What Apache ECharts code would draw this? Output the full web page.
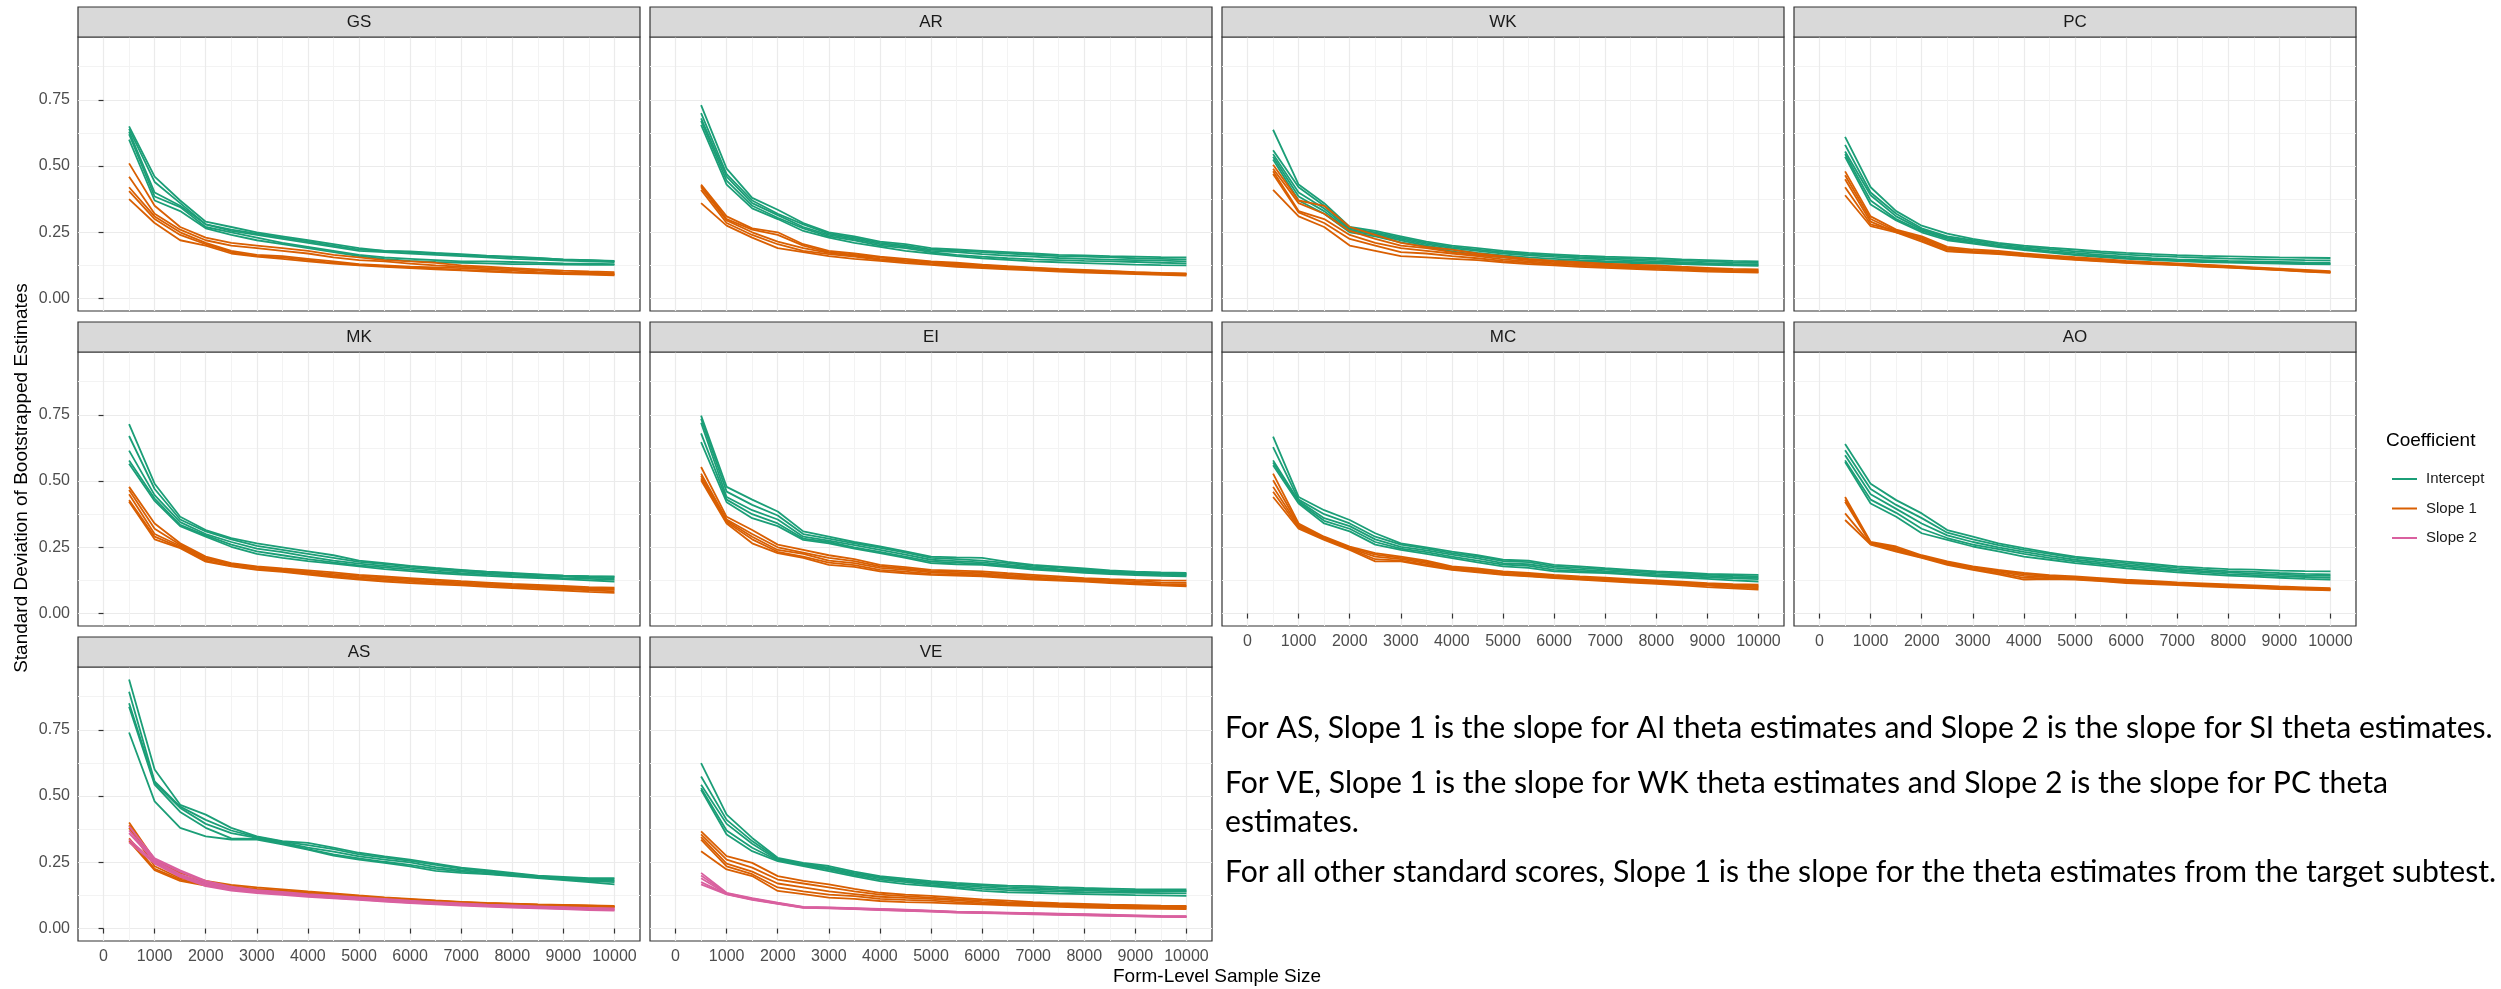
<!DOCTYPE html>
<html>
<head>
<meta charset="utf-8">
<script src="https://cdn.jsdelivr.net/npm/echarts@6/dist/echarts.min.js"></script>
<style>
  html, body { margin: 0; padding: 0; background: #ffffff; }
  #chart { width: 2501px; height: 989px; }
</style>
</head>
<body>
<div id="chart"></div>
<script>
// Form-level sample sizes on the x axis
const sampleSizes = [500, 1000, 1500, 2000, 2500, 3000, 3500, 4000, 4500, 5000,
                     5500, 6000, 6500, 7000, 7500, 8000, 8500, 9000, 9500, 10000];
const xTicks = [0, 1000, 2000, 3000, 4000, 5000, 6000, 7000, 8000, 9000, 10000];
const xMinorTicks = [500, 1500, 2500, 3500, 4500, 5500, 6500, 7500, 8500, 9500];
const yTicks = [0, 0.25, 0.5, 0.75];
const yMinorTicks = [0.125, 0.375, 0.625, 0.875];
const coefficientNames = ['Intercept', 'Slope 1', 'Slope 2'];
const panelNames = ['GS', 'AR', 'WK', 'PC', 'MK', 'EI', 'MC', 'AO', 'AS', 'VE'];

// Standard deviation of bootstrapped estimates, one row per form
const gsIntercept = [
  [0.65,0.46,0.37,0.29,0.27,0.25,0.235,0.22,0.205,0.19,0.18,0.175,0.17,0.165,0.16,0.155,0.152,0.148,0.145,0.142],
  [0.64,0.44,0.36,0.28,0.26,0.245,0.23,0.215,0.2,0.185,0.18,0.178,0.172,0.168,0.162,0.158,0.153,0.147,0.145,0.14],
  [0.63,0.40,0.35,0.28,0.255,0.24,0.225,0.21,0.195,0.18,0.175,0.17,0.165,0.16,0.155,0.15,0.147,0.143,0.14,0.138],
  [0.62,0.385,0.345,0.27,0.25,0.23,0.21,0.195,0.18,0.165,0.155,0.15,0.145,0.14,0.14,0.138,0.135,0.133,0.132,0.13],
  [0.60,0.37,0.33,0.265,0.24,0.22,0.205,0.19,0.175,0.16,0.15,0.142,0.138,0.135,0.133,0.13,0.13,0.128,0.127,0.127]
];
const gsSlope1 = [
  [0.51,0.35,0.27,0.23,0.21,0.2,0.19,0.18,0.165,0.155,0.145,0.14,0.135,0.125,0.12,0.115,0.11,0.105,0.102,0.10],
  [0.46,0.32,0.26,0.22,0.2,0.19,0.18,0.17,0.155,0.145,0.14,0.132,0.125,0.12,0.115,0.11,0.105,0.1,0.098,0.095],
  [0.42,0.31,0.25,0.21,0.18,0.165,0.16,0.15,0.14,0.13,0.125,0.12,0.118,0.115,0.11,0.105,0.1,0.097,0.094,0.092],
  [0.405,0.30,0.24,0.205,0.175,0.16,0.155,0.145,0.135,0.127,0.122,0.118,0.113,0.108,0.104,0.1,0.097,0.094,0.092,0.09],
  [0.375,0.285,0.22,0.20,0.17,0.158,0.15,0.14,0.132,0.125,0.12,0.115,0.11,0.106,0.102,0.098,0.095,0.092,0.09,0.088]
];
const arIntercept = [
  [0.73,0.49,0.38,0.335,0.285,0.25,0.235,0.215,0.205,0.19,0.185,0.18,0.175,0.17,0.165,0.163,0.16,0.158,0.156,0.155],
  [0.70,0.47,0.37,0.32,0.28,0.245,0.23,0.21,0.2,0.185,0.18,0.175,0.17,0.165,0.16,0.158,0.155,0.152,0.15,0.148],
  [0.68,0.46,0.36,0.315,0.27,0.24,0.225,0.205,0.195,0.18,0.175,0.168,0.162,0.158,0.153,0.15,0.147,0.145,0.143,0.14],
  [0.67,0.445,0.35,0.305,0.265,0.235,0.22,0.2,0.19,0.175,0.165,0.158,0.152,0.148,0.145,0.142,0.14,0.138,0.135,0.133],
  [0.655,0.43,0.34,0.30,0.255,0.23,0.21,0.195,0.18,0.17,0.16,0.152,0.146,0.14,0.137,0.134,0.131,0.128,0.126,0.125]
];
const arSlope1 = [
  [0.43,0.31,0.265,0.25,0.205,0.18,0.17,0.158,0.15,0.14,0.135,0.128,0.122,0.117,0.112,0.108,0.104,0.1,0.097,0.095],
  [0.425,0.30,0.26,0.24,0.2,0.175,0.165,0.155,0.145,0.138,0.132,0.125,0.12,0.115,0.11,0.106,0.102,0.099,0.096,0.093],
  [0.42,0.295,0.25,0.215,0.19,0.172,0.162,0.15,0.142,0.135,0.128,0.122,0.117,0.112,0.108,0.104,0.1,0.097,0.094,0.092],
  [0.41,0.285,0.24,0.205,0.18,0.168,0.158,0.146,0.138,0.13,0.124,0.119,0.114,0.11,0.105,0.102,0.098,0.095,0.092,0.09],
  [0.36,0.275,0.23,0.19,0.175,0.16,0.15,0.142,0.134,0.127,0.12,0.115,0.11,0.106,0.102,0.098,0.095,0.092,0.089,0.087]
];
const wkIntercept = [
  [0.637,0.43,0.36,0.27,0.255,0.235,0.215,0.2,0.19,0.18,0.172,0.167,0.162,0.158,0.155,0.152,0.148,0.145,0.142,0.14],
  [0.56,0.42,0.35,0.265,0.25,0.23,0.21,0.195,0.185,0.175,0.168,0.162,0.157,0.153,0.15,0.146,0.143,0.14,0.137,0.135],
  [0.545,0.40,0.34,0.26,0.245,0.225,0.205,0.19,0.18,0.17,0.163,0.157,0.152,0.148,0.144,0.14,0.137,0.134,0.131,0.13],
  [0.535,0.385,0.33,0.255,0.24,0.22,0.2,0.185,0.172,0.163,0.155,0.15,0.145,0.141,0.138,0.135,0.132,0.13,0.128,0.126],
  [0.525,0.37,0.32,0.25,0.235,0.212,0.195,0.178,0.165,0.155,0.148,0.143,0.14,0.137,0.134,0.132,0.13,0.127,0.125,0.123]
];
const wkSlope1 = [
  [0.505,0.37,0.35,0.27,0.24,0.21,0.195,0.185,0.17,0.16,0.15,0.142,0.137,0.132,0.128,0.125,0.12,0.116,0.112,0.11],
  [0.49,0.36,0.32,0.255,0.225,0.2,0.19,0.175,0.165,0.155,0.145,0.138,0.133,0.128,0.124,0.12,0.116,0.112,0.108,0.106],
  [0.48,0.33,0.3,0.24,0.21,0.19,0.18,0.17,0.16,0.148,0.14,0.134,0.128,0.124,0.12,0.116,0.112,0.108,0.105,0.103],
  [0.47,0.325,0.285,0.225,0.2,0.175,0.17,0.16,0.152,0.142,0.135,0.13,0.125,0.12,0.116,0.112,0.108,0.105,0.102,0.1],
  [0.41,0.31,0.27,0.2,0.18,0.16,0.155,0.15,0.145,0.137,0.13,0.125,0.12,0.116,0.112,0.108,0.105,0.102,0.1,0.098]
];
const pcIntercept = [
  [0.61,0.42,0.33,0.275,0.245,0.225,0.21,0.2,0.192,0.185,0.178,0.172,0.168,0.164,0.161,0.159,0.157,0.155,0.154,0.153],
  [0.58,0.40,0.32,0.265,0.235,0.22,0.205,0.195,0.187,0.178,0.172,0.166,0.161,0.157,0.154,0.151,0.149,0.147,0.145,0.144],
  [0.555,0.39,0.31,0.26,0.23,0.215,0.2,0.19,0.18,0.172,0.165,0.158,0.152,0.148,0.145,0.142,0.14,0.138,0.136,0.135],
  [0.545,0.37,0.30,0.255,0.225,0.21,0.197,0.186,0.176,0.167,0.16,0.153,0.148,0.144,0.141,0.138,0.136,0.134,0.132,0.131],
  [0.535,0.355,0.295,0.25,0.22,0.207,0.194,0.183,0.173,0.164,0.156,0.15,0.145,0.141,0.138,0.136,0.134,0.132,0.13,0.129]
];
const pcSlope1 = [
  [0.48,0.31,0.26,0.235,0.195,0.185,0.18,0.17,0.163,0.156,0.15,0.142,0.137,0.133,0.128,0.123,0.118,0.113,0.108,0.103],
  [0.465,0.30,0.255,0.23,0.19,0.18,0.175,0.167,0.16,0.153,0.147,0.14,0.135,0.13,0.126,0.121,0.116,0.111,0.106,0.101],
  [0.45,0.29,0.25,0.225,0.185,0.178,0.172,0.165,0.157,0.15,0.144,0.138,0.133,0.129,0.124,0.12,0.114,0.109,0.104,0.1],
  [0.42,0.28,0.255,0.22,0.18,0.175,0.17,0.162,0.155,0.148,0.142,0.136,0.132,0.127,0.122,0.118,0.113,0.108,0.103,0.099],
  [0.39,0.273,0.25,0.215,0.178,0.172,0.168,0.16,0.153,0.146,0.14,0.135,0.13,0.126,0.121,0.117,0.112,0.107,0.102,0.097]
];
const mkIntercept = [
  [0.715,0.49,0.365,0.315,0.285,0.265,0.25,0.235,0.22,0.2,0.19,0.18,0.172,0.165,0.158,0.153,0.148,0.143,0.14,0.138],
  [0.67,0.47,0.355,0.31,0.28,0.255,0.24,0.225,0.21,0.195,0.187,0.178,0.17,0.163,0.157,0.151,0.147,0.143,0.141,0.14],
  [0.615,0.447,0.345,0.3,0.27,0.245,0.232,0.215,0.2,0.188,0.18,0.172,0.165,0.158,0.152,0.147,0.143,0.139,0.136,0.133],
  [0.578,0.434,0.335,0.295,0.26,0.235,0.22,0.205,0.193,0.182,0.174,0.166,0.158,0.152,0.147,0.142,0.138,0.134,0.131,0.128],
  [0.565,0.425,0.33,0.29,0.252,0.225,0.21,0.198,0.188,0.178,0.168,0.16,0.153,0.147,0.142,0.138,0.134,0.13,0.125,0.121]
];
const mkSlope1 = [
  [0.478,0.34,0.265,0.215,0.19,0.178,0.17,0.163,0.155,0.146,0.14,0.134,0.128,0.122,0.117,0.112,0.108,0.104,0.1,0.098],
  [0.466,0.32,0.26,0.21,0.187,0.175,0.167,0.158,0.15,0.142,0.136,0.13,0.124,0.118,0.113,0.108,0.104,0.1,0.096,0.094],
  [0.45,0.30,0.255,0.205,0.185,0.172,0.163,0.154,0.145,0.137,0.131,0.125,0.119,0.114,0.109,0.104,0.1,0.096,0.092,0.089],
  [0.428,0.29,0.25,0.2,0.18,0.168,0.16,0.15,0.141,0.132,0.126,0.12,0.115,0.11,0.105,0.1,0.096,0.092,0.088,0.084],
  [0.422,0.28,0.247,0.196,0.178,0.165,0.157,0.147,0.137,0.128,0.121,0.115,0.11,0.106,0.101,0.096,0.091,0.087,0.082,0.078]
];
const eiIntercept = [
  [0.747,0.478,0.43,0.385,0.31,0.29,0.27,0.253,0.235,0.215,0.212,0.21,0.195,0.184,0.177,0.17,0.163,0.158,0.155,0.153],
  [0.735,0.46,0.41,0.37,0.3,0.283,0.265,0.248,0.23,0.21,0.205,0.2,0.19,0.18,0.173,0.166,0.16,0.155,0.152,0.15],
  [0.72,0.44,0.39,0.355,0.29,0.275,0.258,0.24,0.222,0.203,0.198,0.193,0.184,0.175,0.168,0.162,0.156,0.152,0.149,0.147],
  [0.68,0.43,0.375,0.34,0.283,0.27,0.25,0.233,0.215,0.196,0.192,0.187,0.179,0.17,0.164,0.158,0.153,0.149,0.146,0.144],
  [0.647,0.42,0.36,0.33,0.278,0.265,0.245,0.228,0.21,0.19,0.186,0.184,0.175,0.166,0.16,0.154,0.149,0.145,0.142,0.14]
];
const eiSlope1 = [
  [0.553,0.365,0.315,0.26,0.24,0.22,0.205,0.184,0.175,0.165,0.162,0.159,0.152,0.146,0.14,0.134,0.13,0.127,0.125,0.124],
  [0.528,0.355,0.3,0.25,0.23,0.21,0.198,0.178,0.17,0.16,0.157,0.153,0.147,0.141,0.135,0.13,0.126,0.122,0.118,0.116],
  [0.52,0.35,0.29,0.24,0.225,0.2,0.19,0.172,0.165,0.155,0.152,0.148,0.142,0.136,0.13,0.126,0.122,0.117,0.112,0.11],
  [0.51,0.345,0.28,0.233,0.215,0.192,0.183,0.165,0.158,0.15,0.147,0.144,0.138,0.132,0.127,0.123,0.118,0.113,0.108,0.105],
  [0.503,0.34,0.265,0.228,0.21,0.184,0.176,0.159,0.152,0.146,0.143,0.14,0.134,0.128,0.124,0.121,0.115,0.11,0.106,0.103]
];
const mcIntercept = [
  [0.668,0.44,0.39,0.353,0.303,0.265,0.25,0.234,0.22,0.203,0.2,0.184,0.178,0.171,0.165,0.159,0.155,0.15,0.148,0.146],
  [0.628,0.43,0.375,0.34,0.29,0.26,0.245,0.228,0.215,0.198,0.194,0.178,0.172,0.166,0.16,0.155,0.151,0.147,0.143,0.14],
  [0.578,0.425,0.36,0.33,0.28,0.252,0.238,0.222,0.208,0.19,0.186,0.172,0.166,0.16,0.155,0.15,0.146,0.142,0.138,0.135],
  [0.57,0.42,0.35,0.32,0.27,0.245,0.232,0.215,0.2,0.185,0.18,0.165,0.16,0.155,0.15,0.145,0.141,0.137,0.133,0.13],
  [0.56,0.415,0.34,0.31,0.26,0.24,0.225,0.209,0.193,0.178,0.172,0.159,0.155,0.153,0.147,0.14,0.136,0.131,0.125,0.121]
];
const mcSlope1 = [
  [0.528,0.34,0.29,0.253,0.228,0.215,0.2,0.178,0.17,0.159,0.153,0.146,0.14,0.135,0.13,0.125,0.12,0.115,0.111,0.109],
  [0.503,0.335,0.287,0.25,0.222,0.21,0.195,0.174,0.166,0.155,0.149,0.142,0.136,0.131,0.126,0.121,0.116,0.111,0.107,0.104],
  [0.478,0.33,0.284,0.246,0.215,0.205,0.19,0.17,0.162,0.151,0.145,0.139,0.133,0.128,0.123,0.118,0.113,0.108,0.103,0.1],
  [0.46,0.325,0.281,0.243,0.205,0.2,0.185,0.167,0.158,0.148,0.142,0.136,0.13,0.125,0.12,0.115,0.11,0.105,0.1,0.095],
  [0.44,0.32,0.278,0.24,0.197,0.197,0.18,0.165,0.155,0.146,0.14,0.134,0.128,0.122,0.117,0.112,0.106,0.1,0.095,0.09]
];
const aoIntercept = [
  [0.64,0.49,0.428,0.378,0.315,0.29,0.265,0.247,0.23,0.215,0.205,0.196,0.187,0.178,0.172,0.168,0.166,0.162,0.16,0.159],
  [0.616,0.47,0.41,0.36,0.305,0.28,0.258,0.24,0.225,0.21,0.2,0.19,0.181,0.172,0.166,0.16,0.157,0.153,0.15,0.148],
  [0.597,0.45,0.395,0.34,0.295,0.27,0.25,0.233,0.218,0.203,0.193,0.184,0.175,0.166,0.16,0.155,0.151,0.147,0.144,0.142],
  [0.578,0.43,0.38,0.32,0.285,0.26,0.243,0.225,0.21,0.197,0.187,0.178,0.169,0.161,0.155,0.149,0.145,0.141,0.138,0.135],
  [0.572,0.415,0.365,0.303,0.278,0.253,0.235,0.215,0.203,0.19,0.181,0.171,0.163,0.155,0.149,0.143,0.139,0.135,0.131,0.128]
];
const aoSlope1 = [
  [0.44,0.27,0.253,0.22,0.197,0.178,0.165,0.153,0.145,0.14,0.134,0.128,0.123,0.118,0.114,0.11,0.106,0.102,0.099,0.096],
  [0.43,0.267,0.248,0.217,0.193,0.175,0.162,0.148,0.141,0.136,0.13,0.124,0.12,0.115,0.111,0.107,0.103,0.099,0.096,0.093],
  [0.422,0.265,0.243,0.214,0.19,0.172,0.158,0.142,0.137,0.133,0.127,0.121,0.117,0.112,0.108,0.104,0.1,0.096,0.093,0.091],
  [0.378,0.262,0.238,0.212,0.187,0.168,0.153,0.135,0.133,0.13,0.124,0.118,0.114,0.11,0.106,0.102,0.098,0.094,0.091,0.089],
  [0.353,0.26,0.234,0.21,0.184,0.165,0.148,0.128,0.13,0.128,0.122,0.115,0.111,0.107,0.103,0.099,0.096,0.092,0.09,0.088]
];
const asIntercept = [
  [0.94,0.6,0.467,0.43,0.38,0.348,0.33,0.323,0.305,0.286,0.272,0.26,0.245,0.23,0.22,0.21,0.2,0.195,0.19,0.19],
  [0.894,0.555,0.46,0.41,0.37,0.345,0.328,0.315,0.3,0.28,0.268,0.255,0.24,0.226,0.216,0.207,0.198,0.192,0.187,0.185],
  [0.85,0.55,0.455,0.395,0.36,0.342,0.325,0.305,0.29,0.272,0.26,0.25,0.232,0.22,0.212,0.204,0.196,0.19,0.183,0.18],
  [0.837,0.543,0.44,0.38,0.34,0.338,0.322,0.3,0.28,0.265,0.252,0.24,0.225,0.215,0.207,0.2,0.193,0.186,0.179,0.175],
  [0.74,0.48,0.38,0.348,0.336,0.336,0.318,0.298,0.275,0.26,0.248,0.235,0.218,0.21,0.205,0.198,0.19,0.183,0.175,0.167]
];
const asSlope1 = [
  [0.40,0.26,0.21,0.18,0.165,0.155,0.148,0.14,0.133,0.125,0.118,0.112,0.106,0.101,0.097,0.094,0.091,0.089,0.087,0.085],
  [0.39,0.25,0.2,0.175,0.16,0.15,0.143,0.136,0.13,0.122,0.116,0.11,0.104,0.1,0.096,0.093,0.09,0.088,0.086,0.084],
  [0.38,0.235,0.19,0.17,0.155,0.147,0.14,0.133,0.127,0.12,0.114,0.108,0.103,0.099,0.095,0.092,0.089,0.087,0.085,0.083],
  [0.34,0.225,0.185,0.165,0.152,0.144,0.137,0.13,0.125,0.118,0.112,0.106,0.101,0.097,0.094,0.091,0.088,0.086,0.084,0.082],
  [0.33,0.22,0.18,0.162,0.15,0.14,0.134,0.128,0.122,0.116,0.11,0.104,0.1,0.096,0.093,0.09,0.087,0.085,0.083,0.081]
];
const asSlope2 = [
  [0.386,0.265,0.22,0.18,0.158,0.145,0.138,0.13,0.124,0.118,0.112,0.105,0.1,0.095,0.09,0.087,0.084,0.081,0.078,0.076],
  [0.37,0.26,0.215,0.175,0.155,0.142,0.135,0.127,0.121,0.115,0.109,0.102,0.097,0.093,0.089,0.085,0.082,0.079,0.076,0.074],
  [0.36,0.255,0.205,0.17,0.15,0.14,0.132,0.125,0.118,0.112,0.106,0.1,0.095,0.091,0.087,0.083,0.08,0.077,0.074,0.072],
  [0.336,0.25,0.2,0.165,0.147,0.137,0.13,0.122,0.116,0.11,0.104,0.098,0.093,0.089,0.085,0.081,0.078,0.075,0.072,0.07],
  [0.325,0.245,0.195,0.16,0.143,0.134,0.127,0.12,0.114,0.108,0.102,0.096,0.091,0.087,0.083,0.079,0.076,0.073,0.07,0.068]
];
const veIntercept = [
  [0.624,0.43,0.342,0.267,0.248,0.236,0.215,0.198,0.188,0.179,0.172,0.167,0.162,0.16,0.156,0.153,0.151,0.149,0.148,0.148],
  [0.574,0.41,0.33,0.263,0.245,0.23,0.21,0.194,0.184,0.174,0.168,0.162,0.157,0.154,0.151,0.148,0.146,0.144,0.143,0.142],
  [0.543,0.395,0.32,0.26,0.242,0.226,0.206,0.19,0.18,0.17,0.163,0.156,0.151,0.148,0.145,0.143,0.141,0.14,0.14,0.14],
  [0.53,0.37,0.305,0.257,0.24,0.222,0.202,0.185,0.175,0.165,0.157,0.15,0.145,0.142,0.139,0.137,0.136,0.135,0.134,0.133],
  [0.524,0.355,0.292,0.254,0.236,0.217,0.197,0.179,0.168,0.16,0.152,0.142,0.137,0.135,0.132,0.13,0.128,0.126,0.125,0.123]
];
const veSlope1 = [
  [0.367,0.273,0.248,0.198,0.18,0.167,0.15,0.135,0.128,0.123,0.117,0.11,0.105,0.1,0.096,0.093,0.09,0.088,0.086,0.085],
  [0.355,0.26,0.23,0.185,0.17,0.155,0.14,0.128,0.122,0.117,0.111,0.105,0.1,0.096,0.093,0.09,0.088,0.086,0.084,0.083],
  [0.345,0.245,0.215,0.17,0.155,0.14,0.13,0.12,0.116,0.112,0.106,0.1,0.096,0.093,0.09,0.087,0.085,0.083,0.081,0.08],
  [0.336,0.235,0.205,0.155,0.14,0.128,0.122,0.112,0.108,0.105,0.1,0.095,0.092,0.089,0.086,0.083,0.081,0.079,0.077,0.076],
  [0.292,0.223,0.198,0.142,0.13,0.117,0.112,0.104,0.1,0.098,0.094,0.091,0.088,0.085,0.082,0.079,0.077,0.075,0.074,0.073]
];
const veSlope2 = [
  [0.21,0.135,0.115,0.098,0.082,0.08,0.077,0.074,0.071,0.068,0.064,0.062,0.06,0.058,0.056,0.054,0.052,0.05,0.048,0.047],
  [0.2,0.133,0.113,0.096,0.081,0.079,0.076,0.073,0.07,0.067,0.063,0.061,0.059,0.057,0.055,0.053,0.051,0.049,0.047,0.046],
  [0.19,0.131,0.111,0.095,0.08,0.078,0.075,0.072,0.069,0.066,0.062,0.06,0.058,0.056,0.054,0.052,0.05,0.048,0.046,0.045],
  [0.175,0.13,0.11,0.094,0.079,0.077,0.074,0.071,0.068,0.065,0.061,0.059,0.057,0.055,0.053,0.051,0.049,0.047,0.045,0.044],
  [0.167,0.129,0.108,0.093,0.078,0.076,0.073,0.07,0.067,0.064,0.06,0.058,0.056,0.054,0.052,0.05,0.048,0.046,0.044,0.043]
];

const noteLines = [
  'For AS, Slope 1 is the slope for AI theta estimates and Slope 2 is the slope for SI theta estimates.',
  'For VE, Slope 1 is the slope for WK theta estimates and Slope 2 is the slope for PC theta',
  'estimates.',
  'For all other standard scores, Slope 1 is the slope for the theta estimates from the target subtest.'
];

// Coefficient groups per panel, in panel order
const panelCoefficients = [
  [gsIntercept, gsSlope1],
  [arIntercept, arSlope1],
  [wkIntercept, wkSlope1],
  [pcIntercept, pcSlope1],
  [mkIntercept, mkSlope1],
  [eiIntercept, eiSlope1],
  [mcIntercept, mcSlope1],
  [aoIntercept, aoSlope1],
  [asIntercept, asSlope1, asSlope2],
  [veIntercept, veSlope1, veSlope2]
];

// ---- layout and styling ----
const coefColors = { 'Intercept': '#1B9E77', 'Slope 1': '#D95F02', 'Slope 2': '#D9609F' };
const colLeft = [78, 650, 1222, 1794];
const rowTop = [37, 352, 667];
const panelW = 562, panelH = 274, stripH = 30;
const axisFont = 'Liberation Sans, Arial, Helvetica, sans-serif';
const Y_MIN = -0.047, Y_MAX = 0.987, X_MIN = -500, X_MAX = 10500;

const grids = [], xAxes = [], yAxes = [], series = [], graphics = [];

panelNames.forEach((name, p) => {
  const row = Math.floor(p / 4), col = p % 4;
  const left = colLeft[col], top = rowTop[row];
  const showY = col === 0;
  const showX = row === 2 || (row === 1 && col >= 2);

  grids.push({
    left: left, top: top, width: panelW, height: panelH,
    show: true, backgroundColor: '#ffffff', borderColor: '#333333', borderWidth: 1.2,
    containLabel: false, outerBoundsMode: 'none'
  });

  // major axis (labels, ticks, major grid) and a hidden axis for minor grid lines
  xAxes.push({
    type: 'value', gridIndex: p, position: 'bottom', min: X_MIN, max: X_MAX,
    axisLine: { show: false },
    axisTick: { show: showX, customValues: xTicks, length: 5, lineStyle: { color: '#333333', width: 1.2 } },
    axisLabel: { show: showX, customValues: xTicks, margin: 8, color: '#4D4D4D', fontSize: 16, fontFamily: axisFont,
                 formatter: v => String(Math.round(v)) },
    splitLine: { show: true, lineStyle: { color: '#EBEBEB', width: 1.2 } }
  });
  xAxes.push({
    type: 'value', gridIndex: p, position: 'top', min: X_MIN, max: X_MAX,
    axisLine: { show: false },
    axisTick: { show: false, customValues: xMinorTicks },
    axisLabel: { show: false },
    splitLine: { show: true, lineStyle: { color: '#F3F3F3', width: 1 } }
  });
  yAxes.push({
    type: 'value', gridIndex: p, position: 'left', min: Y_MIN, max: Y_MAX,
    axisLine: { show: false },
    axisTick: { show: showY, customValues: yTicks, length: 5, lineStyle: { color: '#333333', width: 1.2 } },
    axisLabel: { show: showY, customValues: yTicks, margin: 8, color: '#4D4D4D', fontSize: 16, fontFamily: axisFont,
                 formatter: v => Number(v).toFixed(2) },
    splitLine: { show: true, lineStyle: { color: '#EBEBEB', width: 1.2 } }
  });
  yAxes.push({
    type: 'value', gridIndex: p, position: 'right', min: Y_MIN, max: Y_MAX,
    axisLine: { show: false },
    axisTick: { show: false, customValues: yMinorTicks },
    axisLabel: { show: false },
    splitLine: { show: true, lineStyle: { color: '#F3F3F3', width: 1 } }
  });

  panelCoefficients[p].forEach((lines, c) => {
    const coef = coefficientNames[c];
    lines.forEach(vals => {
      series.push({
        type: 'line', name: coef, xAxisIndex: 2 * p, yAxisIndex: 2 * p,
        data: vals.map((v, i) => [sampleSizes[i], v]),
        showSymbol: false, symbol: 'none', silent: true, animation: false,
        color: coefColors[coef],
        itemStyle: { color: coefColors[coef] },
        lineStyle: { color: coefColors[coef], width: 1.8 },
        z: 2 + c
      });
    });
  });

  // facet strip
  graphics.push({
    type: 'rect', shape: { x: left, y: top - stripH, width: panelW, height: stripH },
    style: { fill: '#D9D9D9', stroke: '#333333', lineWidth: 1.2 }, z: 10
  });
  graphics.push({
    type: 'text', x: left + panelW / 2, y: top - stripH / 2,
    style: { text: name, fontSize: 17, fontFamily: axisFont, fill: '#1A1A1A', align: 'center', verticalAlign: 'middle' }, z: 11
  });
});

// axis titles
graphics.push({
  type: 'text', x: 22, y: 478, rotation: Math.PI / 2,
  style: { text: 'Standard Deviation of Bootstrapped Estimates', fontSize: 19, fontFamily: axisFont,
           fill: '#000000', align: 'center', verticalAlign: 'middle' }
});
graphics.push({
  type: 'text', x: 1217, y: 977,
  style: { text: 'Form-Level Sample Size', fontSize: 19, fontFamily: axisFont,
           fill: '#000000', align: 'center', verticalAlign: 'middle' }
});
// legend title
graphics.push({
  type: 'text', x: 2386, y: 441,
  style: { text: 'Coefficient', fontSize: 19, fontFamily: axisFont, fill: '#000000', align: 'left', verticalAlign: 'middle' }
});

// explanatory notes, sized so the first line spans its measured width
const noteFont = 'Lato, "Open Sans", sans-serif';
const measureCtx = document.createElement('canvas').getContext('2d');
measureCtx.font = '100px ' + noteFont;
const noteSize = 100 * 1268 / measureCtx.measureText(noteLines[0]).width;
const noteY = [728, 783, 822, 872];
noteLines.forEach((t, i) => {
  graphics.push({
    type: 'text', x: 1225, y: noteY[i],
    style: { text: t, fontSize: noteSize, fontFamily: noteFont, fill: '#000000', align: 'left', verticalAlign: 'middle' }
  });
});

const chart = echarts.init(document.getElementById('chart'), null, { renderer: 'canvas' });
chart.setOption({
  animation: false,
  backgroundColor: '#ffffff',
  grid: grids,
  xAxis: xAxes,
  yAxis: yAxes,
  legend: {
    data: coefficientNames, orient: 'vertical', left: 2387, top: 465,
    icon: 'rect', itemWidth: 25, itemHeight: 2, itemGap: 11.5, selectedMode: false,
    textStyle: { fontSize: 15, fontFamily: axisFont, color: '#1A1A1A', lineHeight: 18, padding: [0, 0, 0, 4] }
  },
  series: series,
  graphic: graphics
});
</script>
</body>
</html>
